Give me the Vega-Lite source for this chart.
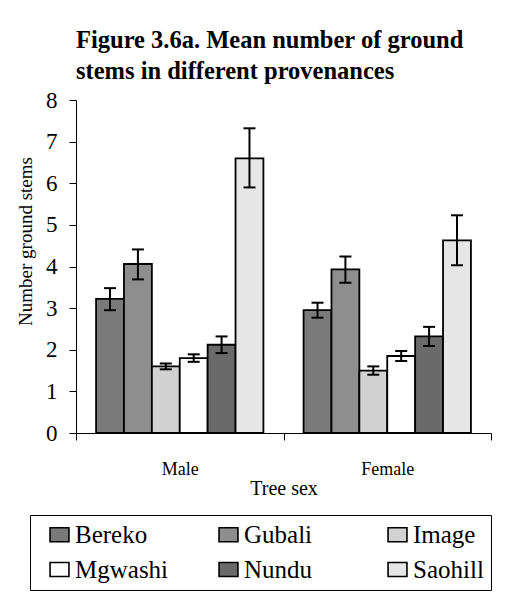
{
  "$schema": "https://vega.github.io/schema/vega-lite/v6.json",
  "width": 415,
  "height": 333,
  "autosize": {"type": "none"},
  "padding": {"left": 76, "top": 100, "right": 37, "bottom": 163},
  "background": "white",
  "title": {
    "text": ["Figure 3.6a. Mean number of ground", "stems in different provenances"],
    "anchor": "start",
    "frame": "group",
    "font": "Liberation Serif",
    "fontSize": 24.5,
    "fontWeight": "bold",
    "color": "black",
    "lineHeight": 31,
    "offset": 5
  },
  "data": {
    "values": [
      {"sex": "Male", "provenance": "Bereko", "mean": 3.22, "lower": 2.95, "upper": 3.48},
      {"sex": "Male", "provenance": "Gubali", "mean": 4.06, "lower": 3.69, "upper": 4.41},
      {"sex": "Male", "provenance": "Image", "mean": 1.6, "lower": 1.53, "upper": 1.67},
      {"sex": "Male", "provenance": "Mgwashi", "mean": 1.8, "lower": 1.71, "upper": 1.89},
      {"sex": "Male", "provenance": "Nundu", "mean": 2.12, "lower": 1.92, "upper": 2.32},
      {"sex": "Male", "provenance": "Saohill", "mean": 6.6, "lower": 5.9, "upper": 7.32},
      {"sex": "Female", "provenance": "Bereko", "mean": 2.95, "lower": 2.77, "upper": 3.13},
      {"sex": "Female", "provenance": "Gubali", "mean": 3.93, "lower": 3.61, "upper": 4.24},
      {"sex": "Female", "provenance": "Image", "mean": 1.5, "lower": 1.4, "upper": 1.6},
      {"sex": "Female", "provenance": "Mgwashi", "mean": 1.85, "lower": 1.73, "upper": 1.97},
      {"sex": "Female", "provenance": "Nundu", "mean": 2.32, "lower": 2.09, "upper": 2.55},
      {"sex": "Female", "provenance": "Saohill", "mean": 4.63, "lower": 4.03, "upper": 5.23}
    ]
  },
  "encoding": {
    "x": {
      "field": "sex",
      "type": "nominal",
      "sort": ["Male", "Female"],
      "scale": {"paddingInner": 0, "paddingOuter": 0},
      "axis": {
        "title": "Tree sex",
        "titleFontSize": 20,
        "titleFontWeight": "normal",
        "titleColor": "black",
        "titlePadding": 0,
        "labelFontSize": 18,
        "labelColor": "black",
        "labelAngle": 0,
        "labelPadding": 20,
        "tickBand": "extent",
        "tickSize": 7,
        "tickColor": "black",
        "domainColor": "black",
        "grid": false
      }
    },
    "xOffset": {
      "field": "provenance",
      "type": "nominal",
      "sort": ["Bereko", "Gubali", "Image", "Mgwashi", "Nundu", "Saohill"],
      "scale": {"paddingInner": 0, "paddingOuter": 0.72}
    }
  },
  "layer": [
    {
      "mark": {"type": "bar", "stroke": "black", "strokeWidth": 1.8},
      "encoding": {
        "y": {
          "field": "mean",
          "type": "quantitative",
          "scale": {"domain": [0, 8]},
          "axis": {
            "title": "Number ground stems",
            "titleFontSize": 19,
            "titleFontWeight": "normal",
            "titleColor": "black",
            "titleX": -51,
            "titleY": 141,
            "titleBaseline": "middle",
            "titleAlign": "center",
            "titleAngle": 270,
            "values": [0, 1, 2, 3, 4, 5, 6, 7, 8],
            "labelFontSize": 23,
            "labelColor": "black",
            "labelPadding": 12,
            "tickSize": 7,
            "tickColor": "black",
            "domainColor": "black",
            "grid": false
          }
        },
        "fill": {
          "field": "provenance",
          "type": "nominal",
          "scale": {
            "domain": ["Bereko", "Gubali", "Image", "Mgwashi", "Nundu", "Saohill"],
            "range": ["#7a7a7a", "#8e8e8e", "#d2d2d2", "#ffffff", "#6a6a6a", "#e6e6e6"]
          },
          "legend": {
            "title": null,
            "orient": "none",
            "legendX": -46,
            "legendY": 415,
            "direction": "horizontal",
            "columns": 3,
            "gridAlign": "all",
            "columnPadding": 37,
            "rowPadding": 9,
            "symbolType": "M-1.35,-1H1.35V1H-1.35Z",
            "symbolSize": 196,
            "symbolOffset": 10,
            "symbolStrokeColor": "black",
            "symbolStrokeWidth": 1.6,
            "labelFont": "Liberation Serif",
            "labelFontSize": 25,
            "labelColor": "black",
            "labelOffset": 3,
            "strokeColor": "black",
            "padding": 7
          }
        }
      }
    },
    {
      "mark": {"type": "rule", "strokeWidth": 2, "color": "black"},
      "encoding": {
        "y": {"field": "lower", "type": "quantitative"},
        "y2": {"field": "upper"}
      }
    },
    {
      "mark": {"type": "tick", "thickness": 2, "size": 12, "color": "black"},
      "encoding": {"y": {"field": "lower", "type": "quantitative"}}
    },
    {
      "mark": {"type": "tick", "thickness": 2, "size": 12, "color": "black"},
      "encoding": {"y": {"field": "upper", "type": "quantitative"}}
    }
  ],
  "config": {
    "font": "Liberation Serif",
    "axis": {"labelFont": "Liberation Serif", "titleFont": "Liberation Serif"},
    "legend": {"labelFont": "Liberation Serif"},
    "view": {"stroke": null},
    "tick": {"opacity": 1}
  }
}
